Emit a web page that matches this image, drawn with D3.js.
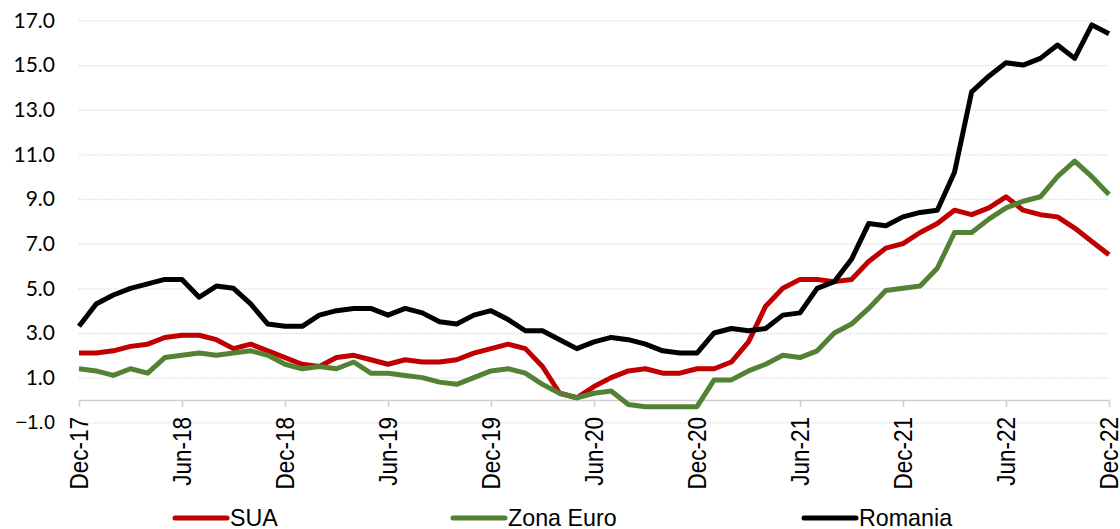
<!DOCTYPE html>
<html>
<head>
<meta charset="utf-8">
<script src="https://cdn.jsdelivr.net/npm/d3@7"></script>
<style>
  body { margin: 0; background: #fff; }
  svg { display: block; }
</style>
</head>
<body>
<div id="chart"></div>
<script>
// month labels shown on the x axis (every 6 months)
var tickLabels = ["Dec-17", "Jun-18", "Dec-18", "Jun-19", "Dec-19", "Jun-20",
  "Dec-20", "Jun-21", "Dec-21", "Jun-22", "Dec-22"];

var yTicks = [-1, 1, 3, 5, 7, 9, 11, 13, 15, 17];

var seriesNames = ["SUA", "Zona Euro", "Romania"];
var seriesColors = ["#c00000", "#548235", "#000000"];

// monthly values, Dec-17 .. Dec-22
var sua = [2.1,
  2.1, 2.2, 2.4, 2.5, 2.8, 2.9, 2.9, 2.7, 2.3, 2.5, 2.2, 1.9,
  1.6, 1.5, 1.9, 2.0, 1.8, 1.6, 1.8, 1.7, 1.7, 1.8, 2.1, 2.3,
  2.5, 2.3, 1.5, 0.3, 0.1, 0.6, 1.0, 1.3, 1.4, 1.2, 1.2, 1.4,
  1.4, 1.7, 2.6, 4.2, 5.0, 5.4, 5.4, 5.3, 5.4, 6.2, 6.8, 7.0,
  7.5, 7.9, 8.5, 8.3, 8.6, 9.1, 8.5, 8.3, 8.2, 7.7, 7.1, 6.5];

var zonaEuro = [1.4,
  1.3, 1.1, 1.4, 1.2, 1.9, 2.0, 2.1, 2.0, 2.1, 2.2, 2.0, 1.6,
  1.4, 1.5, 1.4, 1.7, 1.2, 1.2, 1.1, 1.0, 0.8, 0.7, 1.0, 1.3,
  1.4, 1.2, 0.7, 0.3, 0.1, 0.3, 0.4, -0.2, -0.3, -0.3, -0.3, -0.3,
  0.9, 0.9, 1.3, 1.6, 2.0, 1.9, 2.2, 3.0, 3.4, 4.1, 4.9, 5.0,
  5.1, 5.9, 7.5, 7.5, 8.1, 8.6, 8.9, 9.1, 10.0, 10.7, 10.0, 9.2];

var romania = [3.3,
  4.3, 4.7, 5.0, 5.2, 5.4, 5.4, 4.6, 5.1, 5.0, 4.3, 3.4, 3.3,
  3.3, 3.8, 4.0, 4.1, 4.1, 3.8, 4.1, 3.9, 3.5, 3.4, 3.8, 4.0,
  3.6, 3.1, 3.1, 2.7, 2.3, 2.6, 2.8, 2.7, 2.5, 2.2, 2.1, 2.1,
  3.0, 3.2, 3.1, 3.2, 3.8, 3.9, 5.0, 5.3, 6.3, 7.9, 7.8, 8.2,
  8.4, 8.5, 10.2, 13.8, 14.5, 15.1, 15.0, 15.3, 15.9, 15.3, 16.8, 16.4];

var seriesValues = [sua, zonaEuro, romania];

var svgWidth = 1120;
var svgHeight = 529;

// plot area edges (pixels)
var plotLeft = 79;
var plotRight = 1109;
var plotTop = 20.4;
var plotBottom = 422.3;

var svg = d3.select("#chart")
  .append("svg")
  .attr("width", svgWidth)
  .attr("height", svgHeight);

var xScale = d3.scaleLinear()
  .domain([0, sua.length - 1])
  .range([plotLeft, plotRight]);

var yScale = d3.scaleLinear()
  .domain([-1, 17])
  .range([plotBottom, plotTop]);

// dotted horizontal gridlines
var grid = svg.append("g")
  .attr("transform", `translate(${plotLeft}, 0)`)
  .call(d3.axisLeft(yScale).tickValues(yTicks).tickSize(-(plotRight - plotLeft)).tickFormat(""));
grid.select(".domain").remove();
grid.selectAll("line")
  .attr("stroke", "#d9d9d9")
  .attr("stroke-width", 1.3)
  .attr("stroke-dasharray", "1.5,1.7");

// y axis labels
var yAxis = svg.append("g")
  .attr("transform", `translate(${plotLeft}, 0)`)
  .call(d3.axisLeft(yScale).tickValues(yTicks).tickSize(0).tickPadding(24).tickFormat(d3.format(".1f")));
yAxis.select(".domain").remove();
yAxis.selectAll("text")
  .attr("fill", "#000")
  .style("font-family", d => d < 0 ? "'Liberation Sans', Arial, sans-serif" : "Lato, 'Open Sans', sans-serif")
  .style("font-size", d => d < 0 ? "20px" : "21px");

// x axis sits on the zero line
var tickIndex = tickLabels.map((t, i) => i * 6);
var xAxis = svg.append("g")
  .attr("transform", `translate(0, ${yScale(0)})`)
  .call(d3.axisBottom(xScale).tickValues(tickIndex).tickSize(7).tickSizeOuter(0).tickFormat(""));
xAxis.selectAll("path, line")
  .attr("stroke", "#d0d0d0")
  .attr("stroke-width", 1.6);

// rotated month labels
svg.append("g")
  .selectAll("text")
  .data(tickIndex)
  .enter()
  .append("text")
  .attr("transform", d => `translate(${xScale(d)}, 417) rotate(-90) scale(0.9, 1)`)
  .attr("text-anchor", "end")
  .attr("dy", "0.34em")
  .style("font-family", "'Liberation Sans', Arial, sans-serif")
  .style("font-size", "25px")
  .attr("fill", "#000")
  .text((d, i) => tickLabels[i]);

// series lines
var line = d3.line()
  .x((d, i) => xScale(i))
  .y(d => yScale(d));

svg.append("g")
  .selectAll("path")
  .data(seriesValues)
  .enter()
  .append("path")
  .attr("d", d => line(d))
  .attr("fill", "none")
  .attr("stroke", (d, i) => seriesColors[i])
  .attr("stroke-width", 5)
  .attr("stroke-linejoin", "round");

// legend
var legendX = [175, 453, 804];
var legend = svg.append("g")
  .selectAll("g")
  .data(seriesNames)
  .enter()
  .append("g")
  .attr("transform", (d, i) => `translate(${legendX[i]}, 518)`);

legend.append("line")
  .attr("x1", 0)
  .attr("x2", 52)
  .attr("stroke", (d, i) => seriesColors[i])
  .attr("stroke-width", 5)
  .attr("stroke-linecap", "round");

legend.append("text")
  .attr("transform", "translate(55, 8) scale(0.97, 1)")
  .style("font-family", "'Liberation Sans', Arial, sans-serif")
  .style("font-size", "24px")
  .attr("fill", "#000")
  .text(d => d);
</script>
</body>
</html>
